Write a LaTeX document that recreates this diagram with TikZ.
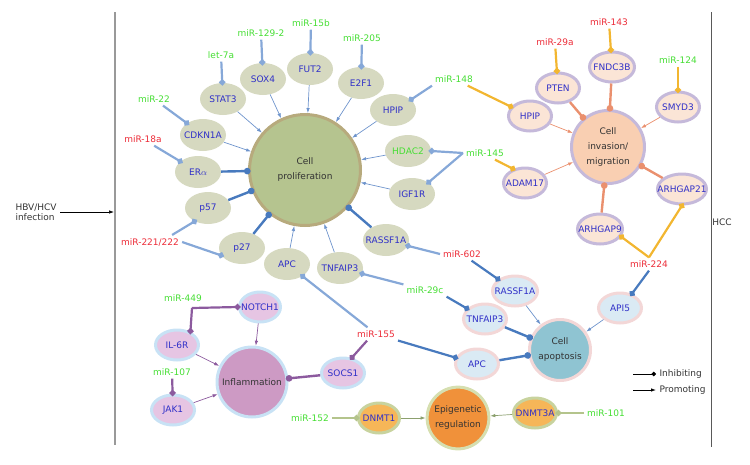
\documentclass[tikz,border=0pt]{standalone}
\usepackage{fontspec}
\setmainfont{DejaVu Sans}
\usetikzlibrary{shapes,arrows.meta}

\definecolor{mirgreen}{RGB}{70,222,52}
\definecolor{mirred}{RGB}{236,44,56}
\definecolor{genetext}{RGB}{48,48,200}
\definecolor{blueline}{RGB}{134,168,216}
\definecolor{bluedark}{RGB}{72,122,190}
\definecolor{bluethin}{RGB}{110,148,204}
\definecolor{goldline}{RGB}{242,182,48}
\definecolor{salmon}{RGB}{234,144,110}
\definecolor{purpline}{RGB}{140,90,158}
\definecolor{oliveline}{RGB}{180,196,140}
\definecolor{olivethin}{RGB}{140,160,110}
\definecolor{prolfill}{RGB}{181,196,143}
\definecolor{prolring}{RGB}{183,170,125}
\definecolor{prolsat}{RGB}{214,217,192}
\definecolor{invfill}{RGB}{249,207,178}
\definecolor{invring}{RGB}{197,185,218}
\definecolor{invsat}{RGB}{251,229,214}
\definecolor{apofill}{RGB}{143,196,210}
\definecolor{aporing}{RGB}{243,215,215}
\definecolor{aposat}{RGB}{218,234,244}
\definecolor{inflfill}{RGB}{205,154,196}
\definecolor{inflring}{RGB}{200,226,245}
\definecolor{inflsat}{RGB}{230,197,227}
\definecolor{epifill}{RGB}{240,145,58}
\definecolor{epiring}{RGB}{214,223,176}
\definecolor{episat}{RGB}{246,182,88}
\definecolor{episatring}{RGB}{200,211,158}

\begin{document}
\begin{tikzpicture}[x=1pt,y=-1pt,
    every node/.style={font=\fontsize{9}{10}\selectfont},
    mirg/.style={text=mirgreen,inner sep=3pt},
    mirr/.style={text=mirred,inner sep=3pt},
    gene/.style={ellipse,minimum width=43,minimum height=30,inner sep=0pt,text=genetext,
        execute at begin node={\hbox to 0pt\bgroup\hss},execute at end node={\hss\egroup}},
    prolgene/.style={gene,fill=prolsat,minimum width=46,minimum height=32},
    invgene/.style={gene,fill=invsat,draw=invring,line width=3pt},
    apogene/.style={gene,fill=aposat,draw=aporing,line width=3pt},
    inflgene/.style={gene,fill=inflsat,draw=inflring,line width=3pt},
    epigene/.style={gene,fill=episat,draw=episatring,line width=3pt},
    hub/.style={circle,line width=3pt,align=center,text=black!80,font=\fontsize{9}{15}\selectfont},
    prom/.style={line width=0.7pt,-{Latex[length=5pt,width=3.5pt]}},
    inh/.style={line width=2.4pt,-{Circle[length=6.5pt]},shorten >=-2.5pt},
    mirinh/.style={line width=2.2pt,-{Circle[length=6pt]},shorten >=-2.5pt}]
    \useasboundingbox (0,0) rectangle (750,464);
    \draw[black!40,line width=1.6pt] (115,12) -- (115,445);
    \draw[black!65,line width=0.8pt] (711,12) -- (711,447);
    \node (hbv) at (12,212) [anchor=west,align=left,text=black!80] {HBV/HCV\\infection};
    \coordinate (lft) at (114,212);
    \draw[line width=0.7pt,-{Latex[length=5pt,width=3.5pt]}] (hbv.east) -- (lft);
    \node (hcc) at (722,222) [text=black!80] {HCC};

    \node (prol) at (305,170) [hub,fill=prolfill,draw=prolring,minimum size=111] {Cell\\proliferation};
    \node (stat3) at (223,99) [prolgene] {STAT3};
    \node (sox4) at (263,79) [prolgene] {SOX4};
    \node (fut2) at (310,69) [prolgene] {FUT2};
    \node (e2f1) at (361,83) [prolgene] {E2F1};
    \node (hpipA) at (393,110) [prolgene] {HPIP};
    \node (hdac2) at (408,151) [prolgene,text=mirgreen] {HDAC2};
    \node (igf1r) at (412,194) [prolgene] {IGF1R};
    \node (rassfA) at (386,240) [prolgene] {RASSF1A};
    \node (tnfA) at (340,268) [prolgene] {TNFAIP3};
    \node (apcA) at (287,264) [prolgene] {APC};
    \node (p27) at (242,248) [prolgene] {p27};
    \node (p57) at (208,208) [prolgene] {p57};
    \node (era) at (198,172) [prolgene] {ER$\alpha$};
    \node (cdkn) at (203,135) [prolgene] {CDKN1A};

    \node (inv) at (608,147) [hub,fill=invfill,draw=invring,minimum size=73] {Cell\\invasion/\\migration};
    \node (pten) at (558,88) [invgene] {PTEN};
    \node (fndc3b) at (612,67) [invgene,minimum width=45] {FNDC3B};
    \node (smyd3) at (678,107) [invgene] {SMYD3};
    \node (hpipB) at (530,116) [invgene] {HPIP};
    \node (adam17) at (525,183) [invgene] {ADAM17};
    \node (arhgap21) at (682,189) [invgene,minimum width=49] {ARHGAP21};
    \node (arhgap9) at (600,229) [invgene,minimum width=45] {ARHGAP9};

    \node (apo) at (560,350) [hub,fill=apofill,draw=aporing,minimum size=61] {Cell\\apoptosis};
    \node (rassfB) at (515,291) [apogene,minimum width=45] {RASSF1A};
    \node (tnfB) at (485,319) [apogene] {TNFAIP3};
    \node (apcB) at (477,364) [apogene] {APC};
    \node (api5) at (620,308) [apogene] {API5};

    \node (infl) at (252,382) [hub,fill=inflfill,draw=inflring,minimum size=70] {Inflammation};
    \node (notch1) at (260,307) [inflgene,minimum width=41] {NOTCH1};
    \node (il6r) at (177,345) [inflgene] {IL-6R};
    \node (jak1) at (173,410) [inflgene] {JAK1};
    \node (socs1) at (343,373) [inflgene] {SOCS1};

    \node (epi) at (458,418) [hub,fill=epifill,draw=epiring,minimum size=61] {Epigenetic\\regulation};
    \node (dnmt1) at (379,418) [epigene,minimum width=41] {DNMT1};
    \node (dnmt3a) at (535,413) [epigene] {DNMT3A};

    \node (let7a) at (221,55) [mirg] {let-7a};
    \node (m1292) at (261,33) [mirg] {miR-129-2};
    \node (m15b) at (311,23) [mirg] {miR-15b};
    \node (m205) at (362,38) [mirg] {miR-205};
    \node (m148) at (454,79) [mirg] {miR-148};
    \node (m145) at (485,153) [mirg] {miR-145};
    \node (m22) at (154,99) [mirg] {miR-22};
    \node (m18a) at (143,139) [mirr] {miR-18a};
    \node (m221) at (150,242) [mirr] {miR-221/222};
    \node (m602) at (462,254) [mirr] {miR-602};
    \node (m29c) at (425,290) [mirg] {miR-29c};
    \node (m155) at (376,334) [mirr] {miR-155};
    \node (m29a) at (555,42) [mirr] {miR-29a};
    \node (m143) at (609,22) [mirr] {miR-143};
    \node (m124) at (678,60) [mirg] {miR-124};
    \node (m224) at (649,264) [mirr] {miR-224};
    \node (m449) at (183,298) [mirg] {miR-449};
    \node (m107) at (172,372) [mirg] {miR-107};
    \node (m152) at (310,418) [mirg] {miR-152};
    \node (m101) at (606,413) [mirg] {miR-101};
    \coordinate (c449) at (192,308);

    \foreach \g in {stat3,sox4,fut2,e2f1,hpipA,hdac2,igf1r,cdkn,apcA,tnfA}
        \draw[prom,bluethin] (\g) -- (prol);
    \foreach \g in {era,p57,p27,rassfA}
        \draw[inh,bluedark] (\g) -- (prol);
    \draw[mirinh,blueline] (let7a) -- (stat3);
    \draw[mirinh,blueline] (m1292) -- (sox4);
    \draw[mirinh,blueline] (m15b) -- (fut2);
    \draw[mirinh,blueline] (m205) -- (e2f1);
    \draw[mirinh,blueline] (m148.south west) -- (hpipA.30);
    \draw[mirinh,blueline] (m145.west) -- (hdac2.east);
    \draw[mirinh,blueline] (m145.west) -- (igf1r.35);
    \draw[mirinh,blueline] (m22) -- (cdkn);
    \draw[mirinh,blueline] (m18a) -- (era);
    \draw[mirinh,blueline] ([xshift=-10pt]m221.north east) -- (p57.225);
    \draw[mirinh,blueline] (m221.east) -- (p27.200);
    \draw[mirinh,blueline] (m602.west) -- (rassfA.-15);
    \draw[mirinh,blueline] (m29c) -- (tnfA);
    \draw[mirinh,blueline] (m155) -- (apcA);

    \foreach \g in {hpipB,adam17,smyd3}
        \draw[prom,salmon] (\g) -- (inv);
    \foreach \g in {pten,fndc3b,arhgap21,arhgap9}
        \draw[inh,salmon] (\g) -- (inv);
    \draw[mirinh,goldline] (m148) -- (hpipB);
    \draw[mirinh,goldline] ([xshift=10pt]m145.south) -- (adam17.130);
    \draw[mirinh,goldline] (m29a) -- (pten);
    \draw[mirinh,goldline] (m143) -- (fndc3b);
    \draw[mirinh,goldline] (m124) -- (smyd3);
    \draw[mirinh,goldline] (m224.north) -- (arhgap9.-20);
    \draw[mirinh,goldline] (m224.north) -- (arhgap21.south);

    \draw[prom,bluethin] (rassfB) -- (apo);
    \draw[prom,bluethin] (api5) -- (apo);
    \draw[inh,bluedark] (tnfB) -- (apo);
    \draw[inh,bluedark] (apcB) -- (apo);
    \draw[mirinh,bluedark] (m602) -- (rassfB);
    \draw[mirinh,bluedark] (m29c.south east) -- (tnfB);
    \draw[mirinh,bluedark] (m155) -- (apcB);
    \draw[mirinh,bluedark] (m224.south) -- (api5.50);

    \foreach \g in {notch1,il6r,jak1}
        \draw[prom,purpline] (\g) -- (infl);
    \draw[inh,purpline] (socs1) -- (infl);
    \draw[mirinh,purpline] ([xshift=-9pt]m155.south) -- (socs1.60);
    \draw[mirinh,purpline] (c449) -- (il6r.45);
    \draw[mirinh,purpline] (c449) -- (notch1.west);
    \draw[mirinh,purpline] (m107) -- (jak1);

    \draw[prom,olivethin] (dnmt1) -- (epi);
    \draw[prom,olivethin] (dnmt3a) -- (epi);
    \draw[mirinh,oliveline] (m152) -- (dnmt1);
    \draw[mirinh,oliveline] (m101) -- (dnmt3a);

    \node (inhtxt) at (656,374) [anchor=west,text=black!80] {Inhibiting};
    \node (protxt) at (656,390) [anchor=west,text=black!80] {Promoting};
    \coordinate (inhst) at (633,374);
    \coordinate (prost) at (633,390);
    \draw[line width=0.8pt,-{Circle[length=4.5pt]}] (inhst) -- (inhtxt.west);
    \draw[line width=0.8pt,-{Latex[length=5pt,width=3.5pt]}] (prost) -- (protxt.west);
\end{tikzpicture}
\end{document}
